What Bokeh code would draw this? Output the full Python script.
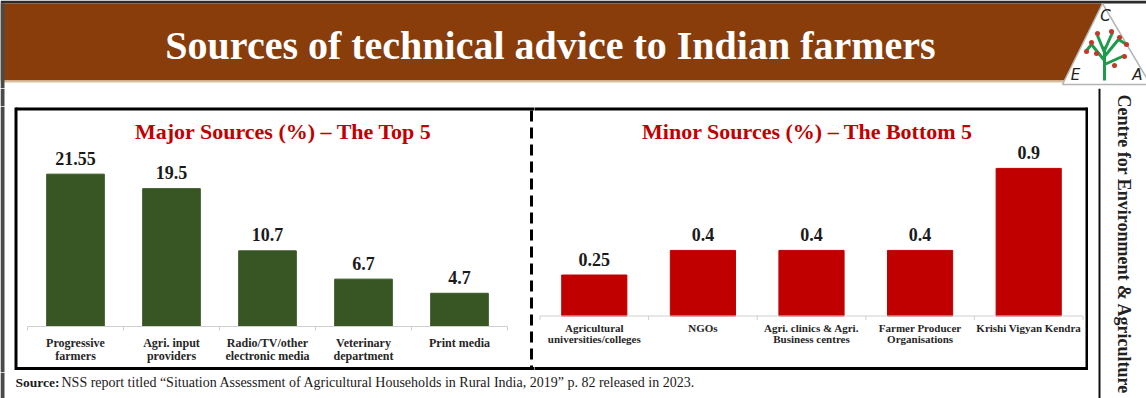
import math
from bokeh.plotting import figure
from bokeh.models import Range1d, FactorRange, CategoricalAxis, ColumnDataSource
from bokeh.layouts import row, column
from bokeh.core.properties import value
from bokeh.embed import file_html
from bokeh.resources import INLINE

# ---------------- data ----------------
title_text = "Sources of technical advice to Indian farmers"
major_title = "Major Sources (%) \u2013 The Top 5"
minor_title = "Minor Sources (%) \u2013 The Bottom 5"
major_categories = ["Progressive\nfarmers", "Agri. input\nproviders",
                    "Radio/TV/other\nelectronic media", "Veterinary\ndepartment",
                    "Print media"]
major_values = [21.55, 19.5, 10.7, 6.7, 4.7]
minor_categories = ["Agricultural\nuniversities/colleges", "NGOs",
                    "Agri. clinics & Agri.\nBusiness centres",
                    "Farmer Producer\nOrganisations", "Krishi Vigyan Kendra"]
minor_values = [0.25, 0.4, 0.4, 0.4, 0.9]
source_label = "Source:"
source_text = ("NSS report titled \u201cSituation Assessment  of Agricultural Households "
               "in Rural India, 2019\u201d p. 82 released in 2023.")
side_text = "Centre for Environment & Agriculture"
logo_letters = ["C", "E", "A"]

# ---------------- style ----------------
SERIF = "Liberation Serif"
BROWN = "#883D0B"
TAN = "#D9C09A"
GREEN = "#375623"
RED = "#C00000"
EDGE = "#4a4a4a"


def base_fig(w, h, xr, yr):
    p = figure(width=w, height=h, x_range=xr, y_range=yr, toolbar_location=None,
               output_backend="svg", min_border=0, x_axis_location=None,
               y_axis_location=None, outline_line_color=None,
               background_fill_color="white", border_fill_color="white")
    p.min_border_left = p.min_border_right = p.min_border_top = p.min_border_bottom = 0
    p.grid.visible = False
    return p


def px_fig(w, h):
    return base_fig(w, h, Range1d(0, w), Range1d(h, 0))


def bar_chart(w, h, cats, vals, color, cat_px, y_px, base_px, title, title_x,
              standoff, label_size, left_border, right_border, dash_x, edge):
    n = len(cats)
    side = (w / cat_px - n) / 2
    xr = FactorRange(factors=cats, range_padding=side, range_padding_units="absolute")
    yr = Range1d(-base_px / y_px, (h - base_px) / y_px)
    p = base_fig(w, h, xr, yr)
    p.extra_y_ranges = {"py": Range1d(h, 0)}

    def ux(px):  # screen px -> synthetic categorical coordinate
        return px / cat_px - side

    src = ColumnDataSource(dict(cat=cats, val=vals, lbl=[str(v) for v in vals]))
    p.vbar(x="cat", top="val", bottom=0, width=0.6, source=src,
           fill_color=color, line_color=color)
    p.text(x="cat", y="val", text="lbl", source=src, text_align="center",
           text_baseline="middle", y_offset=-16, text_font=value(SERIF),
           text_font_style="bold", text_font_size="18px", text_color="#1a1a1a")

    # baseline and boundary ticks
    p.segment(x0=[0], x1=[n], y0=[0], y1=[0], line_color="#d0d0d0", line_width=1)
    p.segment(x0=list(range(n + 1)), x1=list(range(n + 1)), y0=[0] * (n + 1),
              y1=[-4 / y_px] * (n + 1), line_color="#d0d0d0", line_width=1)

    ax = CategoricalAxis(fixed_location=0)
    ax.axis_line_color = None
    ax.major_tick_line_color = None
    ax.minor_tick_line_color = None
    ax.major_tick_out = 0
    ax.major_tick_in = 0
    ax.major_label_standoff = standoff
    ax.major_label_text_font = SERIF
    ax.major_label_text_font_style = "bold"
    ax.major_label_text_font_size = label_size
    ax.major_label_text_line_height = 0.95
    ax.major_label_text_color = "#262626"
    p.add_layout(ax, "below")

    # title
    p.text(x=[ux(title_x)], y=[25], text=[title], y_range_name="py",
           text_align="center", text_baseline="middle", text_font=value(SERIF),
           text_font_style="bold", text_font_size="22px", text_color=RED)

    # box border pieces
    x0 = left_border if left_border is not None else -2
    x1 = right_border if right_border is not None else w + 2
    p.segment(x0=[ux(x0), ux(x0)], x1=[ux(x1), ux(x1)], y0=[2.5, 262], y1=[2.5, 262],
              y_range_name="py", line_color="black", line_width=3)
    for bx in (left_border, right_border):
        if bx is not None:
            p.segment(x0=[ux(bx)], x1=[ux(bx)], y0=[1], y1=[263.5],
                      y_range_name="py", line_color="black", line_width=3)
    if dash_x is not None:
        p.segment(x0=[ux(dash_x)], x1=[ux(dash_x)], y0=[4], y1=[262],
                  y_range_name="py", line_color="black",
                  line_width=3, line_dash="11 6")
    if edge:
        p.quad(left=[ux(0)], right=[ux(4)], top=[0], bottom=[h], y_range_name="py",
               fill_color=EDGE, line_color=None)
    return p


left = bar_chart(534, 266, major_categories, major_values, GREEN, 96, 7.07, 46,
                 major_title, 283, 9, "12px", 15.5, None, 531, True)
right = bar_chart(554, 266, minor_categories, minor_values, RED, 108.6, 164, 56.5,
                  minor_title, 273, 6, "11px", None, 552.5, None, False)

# ---------------- header ----------------
head = px_fig(1146, 88)
head.quad(left=[0], right=[1146], top=[0], bottom=[3], fill_color="#2b2b2b", line_color=None)
head.quad(left=[0], right=[1102], top=[3], bottom=[80], fill_color=BROWN, line_color=None)
head.quad(left=[0], right=[1102], top=[80], bottom=[82], fill_color=TAN, line_color=None)
head.quad(left=[0], right=[4], top=[3], bottom=[88], fill_color=EDGE, line_color=None)
head.text(x=[550], y=[45], text=[title_text], text_align="center", text_baseline="middle",
          text_font=value(SERIF), text_font_style="bold", text_font_size="40px",
          text_color="white")
# logo
head.patch(x=[1102, 1062, 1150], y=[3, 84, 84], fill_color="white",
           line_color="#b5b5b5", line_width=1.5)
head.multi_line(xs=[[1104, 1104], [1104, 1091], [1104, 1118], [1104, 1124],
                    [1104, 1097], [1104, 1112], [1091, 1086], [1118, 1126]],
                ys=[[80, 46], [60, 44], [56, 39], [64, 55], [52, 35], [50, 32],
                    [44, 50], [39, 44]],
                line_color="#1e9a4a", line_width=3)
head.scatter(x=[1091, 1097, 1111, 1119, 1126, 1086, 1124, 1114, 1096],
             y=[42, 33, 31, 37, 44, 51, 56, 65, 53], size=5, fill_color="#c0392b",
             line_color=None)
head.text(x=[1105, 1075, 1137], y=[15, 74, 74], text=logo_letters, text_align="center",
          text_baseline="middle", text_font=value("DejaVu Sans"),
          text_font_style="italic", text_font_size="15px",
          text_color="#222222")

# ---------------- gap above the box ----------------
gap = px_fig(1088, 18)
gap.quad(left=[0], right=[4], top=[0], bottom=[18], fill_color=EDGE, line_color=None)

# ---------------- right strip ----------------
strip = px_fig(58, 310)
strip.segment(x0=[11], x1=[11], y0=[0], y1=[310], line_color="#111111", line_width=2)
strip.text(x=[35], y=[156], text=[side_text], angle=-math.pi / 2, text_align="center",
           text_baseline="middle", text_font=value(SERIF), text_font_style="bold",
           text_font_size="18px", text_color="#222222")

# ---------------- source line ----------------
srcf = px_fig(1088, 26)
srcf.quad(left=[0], right=[4], top=[0], bottom=[26], fill_color=EDGE, line_color=None)
srcf.text(x=[15], y=[10], text=[source_label], text_align="left", text_baseline="middle",
          text_font=value(SERIF), text_font_style="bold", text_font_size="13.5px",
          text_color="#1a1a1a")
srcf.text(x=[61], y=[10], text=[source_text], text_align="left", text_baseline="middle",
          text_font=value(SERIF), text_font_size="14px", text_color="#1a1a1a")

body = column(gap, row(left, right), srcf)
page = column(head, row(body, strip))

open("out.html", "w").write(file_html(page, INLINE))
